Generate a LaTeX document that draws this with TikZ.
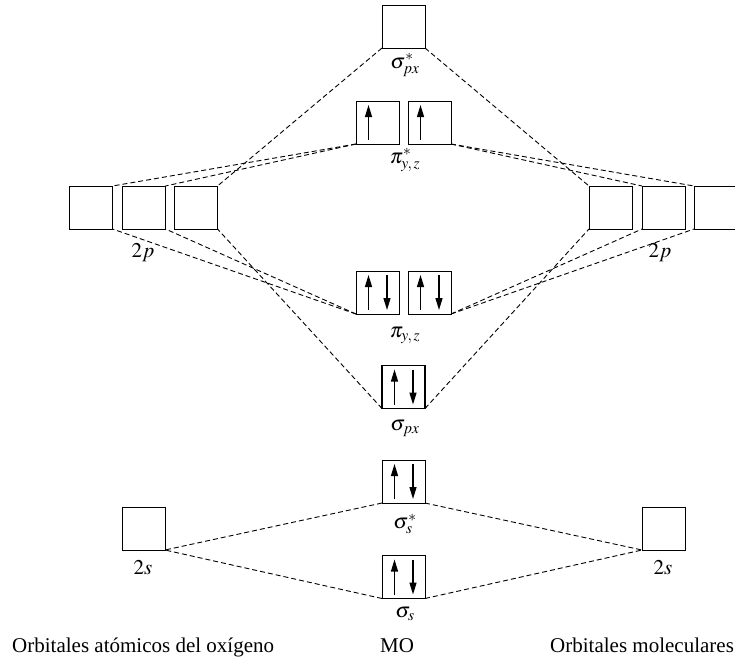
\documentclass[tikz,border=0pt]{standalone}
\usepackage{mathptmx}
\usepackage{fontspec}
\setmainfont{Liberation Serif}
\usetikzlibrary{arrows.meta,calc}
\newcommand\ArrUp[2][12.5]{\draw[spin] ($(#2.south west)+(#1,-4)$) -- ($(#2.north west)+(#1,4)$);}
\newcommand\ArrDown[2][31]{\draw[spin] ($(#2.north west)+(#1,4)$) -- ($(#2.south west)+(#1,-4)$);}
\begin{document}
\begin{tikzpicture}[x=1pt,y=-1pt,
  orb/.style={draw, line width=1pt, minimum size=43pt, inner sep=0pt, outer sep=0pt},
  link/.style={dash pattern=on 5pt off 3pt, line width=0.9pt},
  lab/.style={font=\fontsize{21}{24}\selectfont, inner sep=0pt},
  captxt/.style={font=\fontsize{21}{24}\selectfont, inner sep=0pt},
  spin/.style={-{Triangle[length=12pt,width=7pt]}, line width=1.3pt},
]
\useasboundingbox (0,0) rectangle (735,659);

% boxes
\node[orb] (sa)  at (403.5,26.5) {};
\node[orb] (pa1) at (377.5,122.5) {};
\node[orb] (pa2) at (429.5,122.5) {};
\node[orb] (L1) at (91,207.5) {};
\node[orb] (L2) at (144,207.5) {};
\node[orb] (L3) at (196,207.5) {};
\node[orb] (R1) at (610.5,207.5) {};
\node[orb] (R2) at (663.5,207.5) {};
\node[orb] (R3) at (715.5,207.5) {};
\node[orb] (pb1) at (377.5,292.5) {};
\node[orb] (pb2) at (429.5,292.5) {};
\node[orb, line width=1.4pt] (sp) at (403.5,387) {};
\node[orb] (ssa) at (403.5,481.5) {};
\node[orb] (ss) at (403.5,577) {};
\node[orb] (L2s) at (143.5,528.5) {};
\node[orb] (R2s) at (663.5,528.5) {};

% electrons
\ArrUp{pa1}
\ArrUp{pa2}
\ArrUp{pb1}\ArrDown{pb1}
\ArrUp{pb2}\ArrDown{pb2}
\ArrUp{sp}\ArrDown{sp}
\ArrUp{ssa}\ArrDown{ssa}
\ArrUp{ss}\ArrDown{ss}

% connectors
\draw[link] (sa.south west) -- (L3.north east);
\draw[link] (sa.south east) -- (R1.north west);
\draw[link] (pa1.south west) -- (L1.north east);
\draw[link] (pa1.south west) -- (L2.north east);
\draw[link] (pa2.south east) -- (R2.north west);
\draw[link] (pa2.south east) -- (R3.north west);
\draw[link] (pb1.south west) -- (L1.south east);
\draw[link] (pb1.south west) -- (L2.south east);
\draw[link] (pb2.south east) -- (R2.south west);
\draw[link] (pb2.south east) -- (R3.south west);
\draw[link] (sp.south west) -- (L3.south east);
\draw[link] (sp.south east) -- (R1.south west);
\draw[link] (ssa.south west) -- (L2s.south east);
\draw[link] (ssa.south east) -- (R2s.south west);
\draw[link] (ss.south west) -- (L2s.south east);
\draw[link] (ss.south east) -- (R2s.south west);

% labels
\node[lab] (lsa) at (405,65) {$\sigma^*_{px}$};
\node[lab] (lpa) at (405,160) {$\pi^*_{y,\,z}$};
\node[lab] (lL) at (143,253) {$2p$};
\node[lab] (lR) at (660,253) {$2p$};
\node[lab] (lpb) at (405,335) {$\pi_{y,\,z}$};
\node[lab] (lsp) at (405,428) {$\sigma_{px}$};
\node[lab] (lssa) at (405,524) {$\sigma^*_{s}$};
\node[lab] (lss) at (405,614) {$\sigma_{s}$};
\node[lab] (lLs) at (143,568) {$2s$};
\node[lab] (lRs) at (663,568) {$2s$};

% captions
\node[captxt, anchor=base west] (c1) at (12,652) {Orbitales atómicos del oxígeno};
\node[captxt, anchor=base] (c2) at (397,652) {MO};
\node[captxt, anchor=base west] (c3) at (550,652) {Orbitales moleculares};
\end{tikzpicture}
\end{document}
